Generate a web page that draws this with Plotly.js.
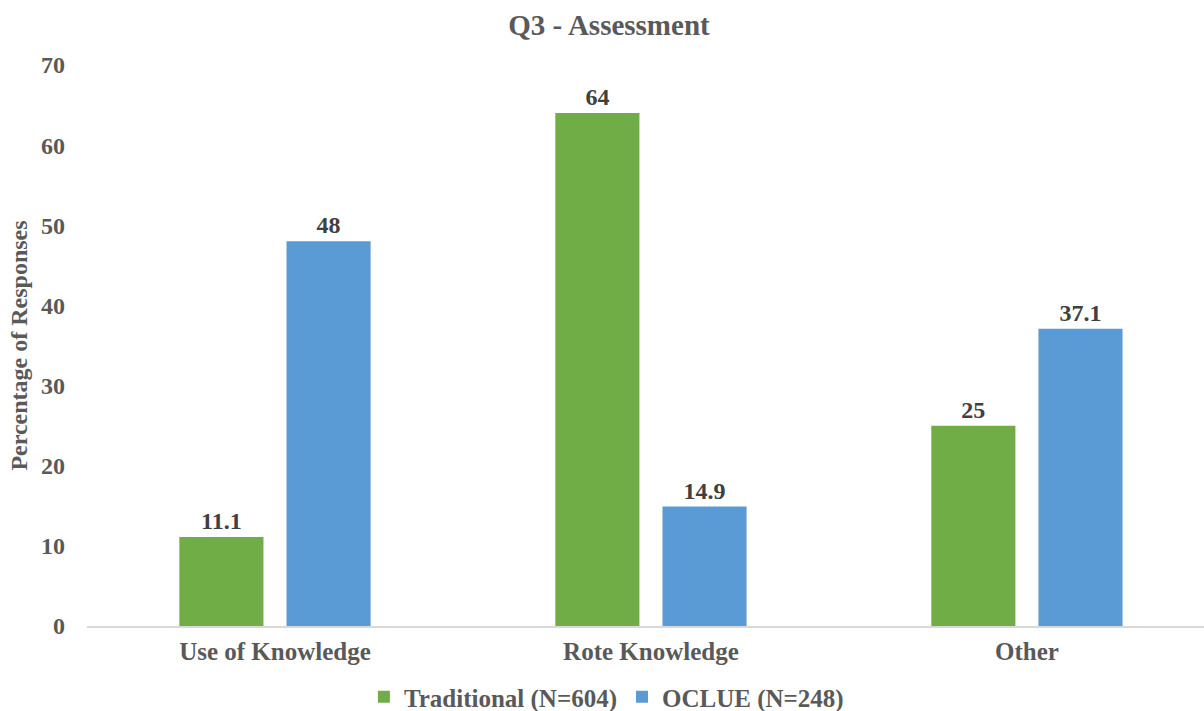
<!DOCTYPE html>
<html>
<head>
<meta charset="utf-8">
<script src="https://cdn.plot.ly/plotly-3.0.1.min.js"></script>
<style>html,body{margin:0;padding:0;background:#fff;}#chart{width:1204px;height:711px;}</style>
</head>
<body>
<div id="chart"></div>
<script>
const categories = ["Use of Knowledge", "Rote Knowledge", "Other"];
const traditional = [11.1, 64, 25];
const oclue = [48, 14.9, 37.1];
const seriesNames = ["Traditional (N=604)", "OCLUE (N=248)"];
const yTicks = [0, 10, 20, 30, 40, 50, 60, 70];

const FONT = "Liberation Serif, Times New Roman, serif";
const labelFont = {family: FONT, size: 24, color: "#404040", weight: "bold"};

const traces = [
  {type: "bar", name: seriesNames[0], x: categories, y: traditional,
   marker: {color: "#70AD47"}, text: traditional.map(String), textposition: "outside",
   textfont: labelFont, cliponaxis: false, hoverinfo: "skip"},
  {type: "bar", name: seriesNames[1], x: categories, y: oclue,
   marker: {color: "#5B9BD5"}, text: oclue.map(String), textposition: "outside",
   textfont: labelFont, cliponaxis: false, hoverinfo: "skip"}
];

const layout = {
  width: 1204, height: 711,
  paper_bgcolor: "#fff", plot_bgcolor: "#fff",
  margin: {l: 87, r: 0, t: 65, b: 85, autoexpand: false},
  font: {family: FONT, color: "#595959"},
  title: {text: "<b>Q3 - Assessment</b>", font: {family: FONT, size: 29, color: "#595959"},
          x: 609 / 1204, xanchor: "center", xref: "container",
          y: 1 - 25 / 711, yanchor: "middle", yref: "container"},
  barmode: "group", bargap: 0.43, bargroupgap: 0.215,
  xaxis: {range: [-0.5, 2.471], showline: true, linecolor: "#d9d9d9", linewidth: 2,
          showgrid: false, zeroline: false, ticks: "", ticklabelstandoff: 2, automargin: false,
          tickfont: {family: FONT, size: 25, color: "#595959", weight: "bold"}},
  yaxis: {range: [0, 70], tickvals: yTicks, showgrid: false, zeroline: false, showline: false,
          ticks: "", ticklabelstandoff: 21, automargin: false,
          tickfont: {family: FONT, size: 24, color: "#595959", weight: "bold"},
          title: {text: "<b>Percentage of Responses</b>", standoff: 6,
                  font: {family: FONT, size: 24, color: "#595959"}}},
  legend: {orientation: "h", x: 0.465, xanchor: "center", xref: "paper",
           y: 1 - 697 / 711, yanchor: "middle", yref: "container",
           font: {family: FONT, size: 25, color: "#595959", weight: "bold"},
           itemwidth: 30, tracegroupgap: 0},
  showlegend: true
};

Plotly.newPlot("chart", traces, layout, {displayModeBar: false, staticPlot: true});
</script>
</body>
</html>
